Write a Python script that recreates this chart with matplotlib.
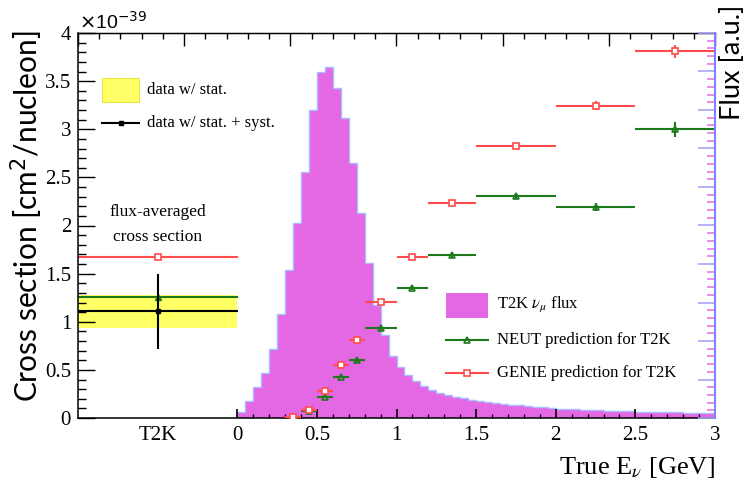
import numpy as np
import matplotlib
matplotlib.use("Agg")
import matplotlib.pyplot as plt
from matplotlib.ticker import MultipleLocator, FixedLocator, FormatStrFormatter

plt.rcParams["font.family"] = ["Liberation Serif", "DejaVu Serif"]
plt.rcParams["mathtext.fontset"] = "stix"

# ---- T2K nu_mu flux histogram (arbitrary units, scaled to the left axis) ----
flux_bin_width = 0.05
flux_values = [
    0.06, 0.176, 0.32, 0.47, 0.72, 1.08, 1.535, 2.03, 2.56, 3.195,
    3.60, 3.65, 3.43, 3.115, 2.65, 2.13, 1.61, 1.17, 0.86, 0.64,
    0.53, 0.45, 0.38, 0.33, 0.29, 0.26, 0.24, 0.22, 0.205, 0.19,
    0.18, 0.17, 0.16, 0.15, 0.14, 0.135, 0.125, 0.117, 0.11, 0.104,
    0.098, 0.094, 0.09, 0.087, 0.083, 0.08, 0.077, 0.074, 0.072, 0.07,
    0.067, 0.065, 0.063, 0.061, 0.06, 0.058, 0.056, 0.054, 0.052, 0.05,
]

# ---- Energy-binned predictions (x 1e-39 cm^2/nucleon) ----
pred_edges = [0.3, 0.4, 0.5, 0.6, 0.7, 0.8, 1.0, 1.2, 1.5, 2.0, 2.5, 3.0]
neut_xsec = [0.01, 0.07, 0.22, 0.43, 0.60, 0.93, 1.355, 1.69, 2.31, 2.19, 3.00]
neut_err = [0.005, 0.01, 0.015, 0.015, 0.02, 0.02, 0.025, 0.03, 0.03, 0.04, 0.08]
genie_xsec = [0.01, 0.08, 0.28, 0.555, 0.81, 1.21, 1.67, 2.23, 2.825, 3.245, 3.81]
genie_err = [0.005, 0.01, 0.015, 0.015, 0.02, 0.02, 0.025, 0.03, 0.03, 0.05, 0.07]

# ---- Flux-averaged cross section (T2K) ----
data_xsec = 1.11
data_stat = 0.17
data_total = 0.39
neut_avg = 1.26
genie_avg = 1.67

# ---- Axis ticks ----
y_ticks = [0, 0.5, 1, 1.5, 2, 2.5, 3, 3.5, 4]
x_ticks = [-0.5, 0, 0.5, 1, 1.5, 2, 2.5, 3]
x_tick_labels = ["T2K", "0", "0.5", "1", "1.5", "2", "2.5", "3"]

MAGENTA = "#e467e4"
FLUX_EDGE = "#a8bcff"
RED = "#ff4c4c"
GREEN = "#1c7a1c"
YELLOW = "#ffff66"

fig = plt.figure(figsize=(7.5, 4.84), dpi=100)
ax = fig.add_axes([78 / 750, 1 - 418 / 484, 637 / 750, 385 / 484])
ax.set_xlim(-1, 3)
ax.set_ylim(0, 4)

# flux histogram
edges = np.arange(len(flux_values) + 1) * flux_bin_width
ax.stairs(flux_values, edges, fill=True, color=MAGENTA, zorder=1)
ax.stairs(flux_values, edges, color=FLUX_EDGE, lw=1.0, zorder=1.5)

# predictions in energy bins
pe = np.array(pred_edges)
centers = 0.5 * (pe[:-1] + pe[1:])
halfw = 0.5 * (pe[1:] - pe[:-1])
ax.errorbar(centers, neut_xsec, xerr=halfw, yerr=neut_err, fmt="^", color=GREEN,
            mfc="none", mec=GREEN, ms=4.5, mew=1.2, elinewidth=1.5, capsize=0, zorder=3)
ax.errorbar(centers, genie_xsec, xerr=halfw, yerr=genie_err, fmt="s", color=RED,
            mfc="white", mec=RED, ms=4.5, mew=1.2, elinewidth=1.5, capsize=0, zorder=3)

# flux-averaged panel
ax.fill_between([-1, 0], data_xsec - data_stat, data_xsec + data_stat,
                color=YELLOW, lw=0, zorder=1)
ax.plot([-1, 0], [neut_avg, neut_avg], color=GREEN, lw=1.5, zorder=2)
ax.plot([-0.5], [neut_avg], "^", color=GREEN, ms=4.5, zorder=2)
ax.plot([-1, 0], [genie_avg, genie_avg], color=RED, lw=1.5, zorder=2)
ax.plot([-0.5], [genie_avg], "s", mfc="white", mec=RED, ms=4.5, mew=1.2, zorder=3)
ax.plot([-1, 0], [data_xsec, data_xsec], color="black", lw=1.5, zorder=3)
ax.errorbar([-0.5], [data_xsec], yerr=data_total, fmt="s", color="black", ms=3.5,
            elinewidth=1.5, capsize=0, zorder=4)

ax.text(-0.5, 2.14, "flux-averaged", ha="center", va="center", fontsize=12.5)
ax.text(-0.5, 1.88, "cross section", ha="center", va="center", fontsize=12.5)

# legend: data
ax.fill_between([-0.85, -0.615], 3.28, 3.53, color=YELLOW, lw=0.8,
                edgecolor="#e6e64d", zorder=2)
ax.text(-0.565, 3.41, "data w/ stat.", va="center", fontsize=12)
ax.plot([-0.85, -0.615], [3.07, 3.07], color="black", lw=1.5)
ax.plot([-0.7325], [3.07], "s", color="black", ms=3.5)
ax.text(-0.565, 3.07, "data w/ stat. + syst.", va="center", fontsize=12)

# legend: flux and predictions
ax.fill_between([1.31, 1.575], 1.04, 1.30, color=MAGENTA, lw=0, zorder=2)
ax.text(1.63, 1.18, r"T2K $\nu_{\mu}$ flux", va="center", fontsize=12)
ax.plot([1.31, 1.575], [0.81, 0.81], color=GREEN, lw=1.5)
ax.plot([1.4425], [0.81], "^", mfc="none", mec=GREEN, ms=4.5, mew=1.2)
ax.text(1.63, 0.81, "NEUT prediction for T2K", va="center", fontsize=12)
ax.plot([1.31, 1.575], [0.465, 0.465], color=RED, lw=1.5)
ax.plot([1.4425], [0.465], "s", mfc="white", mec=RED, ms=4.5, mew=1.2)
ax.text(1.63, 0.465, "GENIE prediction for T2K", va="center", fontsize=12)

# left axis
ax.yaxis.set_major_locator(FixedLocator(y_ticks))
ax.yaxis.set_minor_locator(MultipleLocator(0.1))
ax.yaxis.set_major_formatter(FormatStrFormatter("%g"))
ax.tick_params(axis="y", which="major", direction="in", length=12, width=1,
               labelsize=15, pad=5, right=False)
ax.tick_params(axis="y", which="minor", direction="in", length=6, width=1, right=False)

# bottom axis
ax.set_xticks(x_ticks)
ax.set_xticklabels(x_tick_labels)
ax.xaxis.set_minor_locator(FixedLocator(
    [v for v in np.round(np.arange(0, 3.001, 0.1), 2) if abs(v * 2 - round(v * 2)) > 1e-6]))
ax.tick_params(axis="x", which="major", direction="in", length=6.5, width=1.2,
               labelsize=15, pad=6, top=False)
ax.tick_params(axis="x", which="minor", direction="in", length=3, width=1, top=False)
ax.xaxis.get_major_ticks()[0].tick1line.set_visible(False)

# top axis
top = ax.secondary_xaxis("top")
top.xaxis.set_major_locator(FixedLocator(np.linspace(-1, 3, 7)))
top.xaxis.set_minor_locator(FixedLocator(np.linspace(-1, 3, 31)))
top.tick_params(which="major", direction="in", length=9.5, width=1, labeltop=False)
top.tick_params(which="minor", direction="in", length=4.5, width=1)
top.spines["top"].set_linewidth(1)

# right (flux) axis
rax = ax.twinx()
rax.set_ylim(0, 10)
rax.yaxis.set_major_locator(MultipleLocator(1))
rax.yaxis.set_minor_locator(MultipleLocator(0.2))
rax.tick_params(axis="y", which="major", direction="in", length=12, width=1.2,
                color="#a4a4f4", labelright=False)
rax.tick_params(axis="y", which="minor", direction="in", length=5.5, width=1.2,
                color="#e27ae2")
rax.spines["right"].set_color("#8080ff")
rax.spines["right"].set_linewidth(1.5)
for s in ("left", "top", "bottom"):
    rax.spines[s].set_visible(False)

for s in ("left", "bottom"):
    ax.spines[s].set_linewidth(1.1)
ax.spines["right"].set_visible(False)

# titles
fig.text(27 / 750, 1 - 30 / 484, r"Cross section [cm$^{2}$/nucleon]", rotation=90,
         ha="center", va="top", fontsize=21.5, family=["Lato", "DejaVu Sans"],
         math_fontfamily="dejavusans")
fig.text(733 / 750, 1 - 5 / 484, "Flux [a.u.]", rotation=90, ha="center", va="top",
         fontsize=19.5, family=["Lato", "DejaVu Sans"])
fig.text(716 / 750, 1 - 474 / 484, r"True E$_{\nu}$ [GeV]", ha="right", va="baseline",
         fontsize=19)
fig.text(79 / 750, 1 - 29 / 484, r"$\times$10$^{-39}$", ha="left", va="baseline",
         fontsize=14, family=["Liberation Sans", "DejaVu Sans"],
         math_fontfamily="dejavusans")

fig.savefig("out.png", dpi=100)
